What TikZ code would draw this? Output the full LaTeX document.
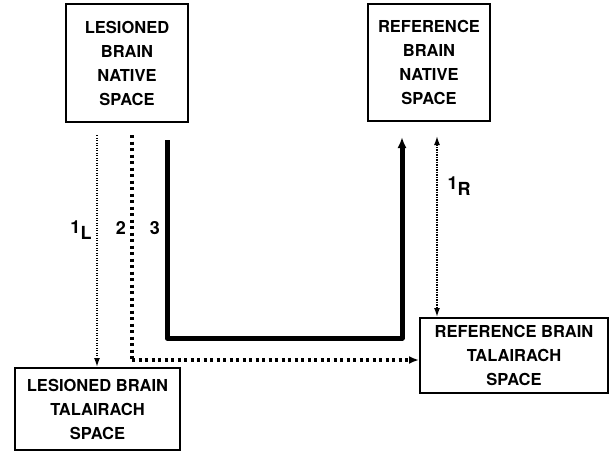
\documentclass[tikz,border=0pt]{standalone}
\usepackage{fontspec}
\setmainfont{TeX Gyre Heros}
\usetikzlibrary{arrows.meta}
\tikzset{
  box/.style={draw, line width=2pt, align=center, inner sep=0pt,
    font=\bfseries\fontsize{16.5}{24}\selectfont},
  lbl/.style={font=\bfseries\fontsize{18}{20}\selectfont, inner sep=0pt},
  tip/.style={-{Latex[length=9pt,width=6pt]}},
  fine/.style={line width=1.5pt, dash pattern=on 1.3pt off 1.2pt},
  coarse/.style={line width=3.2pt, dash pattern=on 3.2pt off 3.3pt},
  heavy/.style={line width=5pt},
}
\begin{document}
\begin{tikzpicture}[x=1pt,y=-1pt]
  \useasboundingbox (0,0) rectangle (611,455);

  % the four spaces
  \node[box, minimum width=122pt, minimum height=118pt] (LN) at (127,63)
    {LESIONED\\BRAIN\\NATIVE\\SPACE};
  \node[box, minimum width=122pt, minimum height=117pt] (RN) at (429,62.5)
    {REFERENCE\\BRAIN\\NATIVE\\SPACE};
  \node[box, minimum width=165pt, minimum height=82pt] (LT) at (97.5,409)
    {LESIONED BRAIN\\TALAIRACH\\SPACE};
  \node[box, minimum width=188pt, minimum height=75pt] (RT) at (514,355.5)
    {REFERENCE BRAIN\\TALAIRACH\\SPACE};

  % path 1L: lesioned native -> lesioned Talairach
  \coordinate (s1) at (97,135);
  \draw[fine, tip] (s1) -- (s1 |- LT.north);

  % path 2: lesioned native -> reference Talairach
  \coordinate (s2) at (132,135);
  \coordinate (c2) at (132,360);
  \draw[coarse] (s2) -- (c2);
  \draw[coarse, -{Latex[length=10pt,width=8pt]}] (c2) -- (c2 -| RT.west);

  % path 3: lesioned native -> reference native
  \coordinate (s3) at (167,140);
  \coordinate (c3) at (167,338);
  \coordinate (d3) at (402,338);
  \coordinate (e3) at (402,137);
  \draw[heavy, line join=round, -{Latex[length=11pt,width=9pt]}]
    (s3) -- (c3) -- (d3) -- (e3);

  % path 1R: reference native <-> reference Talairach
  \coordinate (s4) at (437,136);
  \draw[fine, {Latex[length=9pt,width=6pt]}-{Latex[length=9pt,width=6pt]}]
    (s4) -- (s4 |- RT.north);

  % path labels
  \node[lbl] (l1L) at (81,230) {1\raisebox{-6pt}{L}};
  \node[lbl] (l2) at (121,228) {2};
  \node[lbl] (l3) at (155,228) {3};
  \node[lbl] (l1R) at (459,186) {1\raisebox{-6pt}{R}};
\end{tikzpicture}
\end{document}
